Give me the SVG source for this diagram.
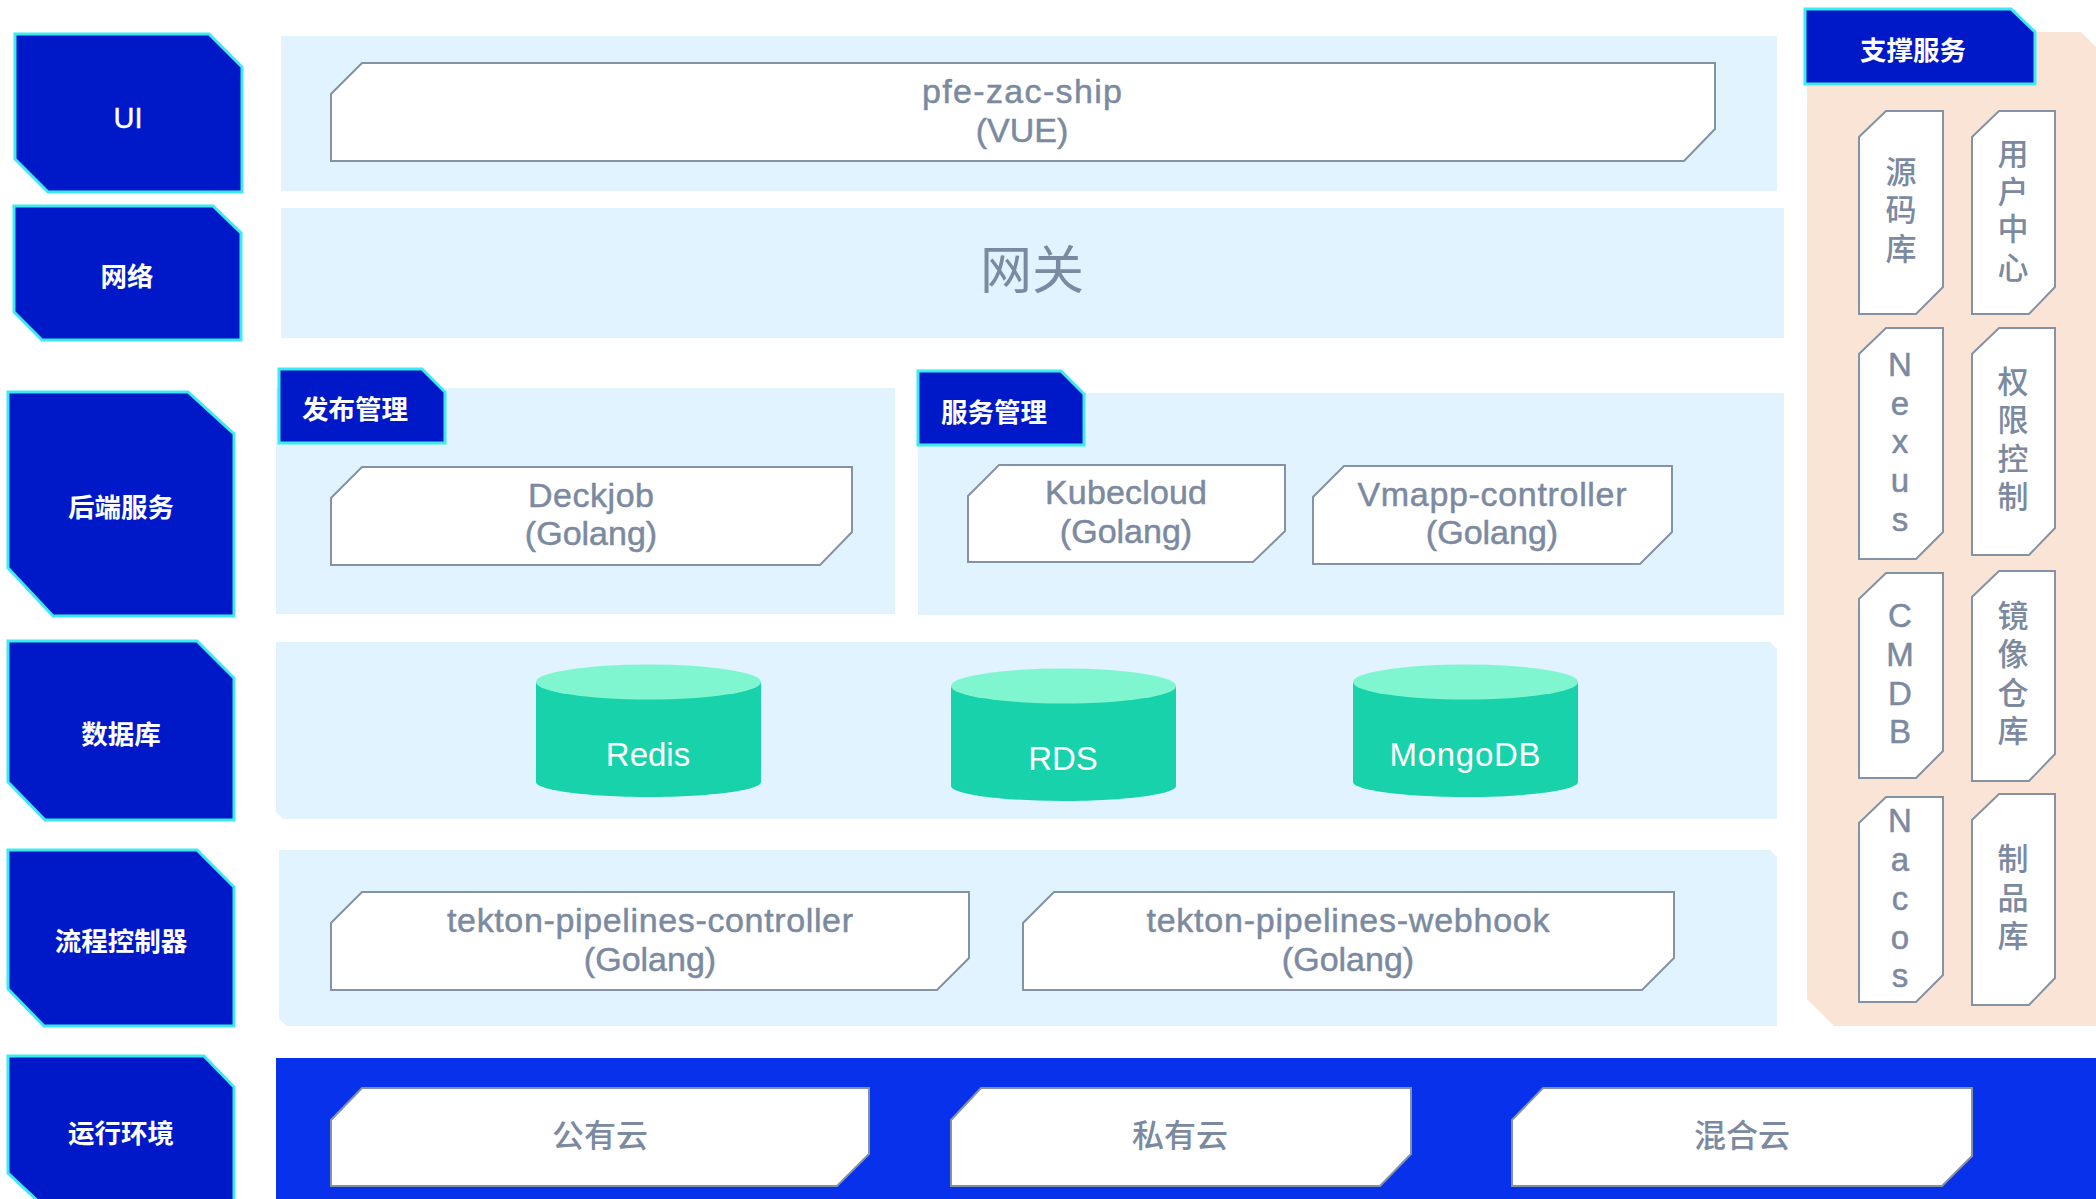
<svg xmlns="http://www.w3.org/2000/svg" width="2096" height="1199" viewBox="0 0 2096 1199">
<style>
text{font-family:"Liberation Sans","Noto Sans CJK SC",sans-serif;text-anchor:middle}
.p{fill:#e0f3ff}
.h{fill:#0019c8;stroke:#3ceaf0;stroke-width:3}
.n{fill:#fff;stroke:#8492a6;stroke-width:2}
.ht{fill:#fff;font-size:26.5px}
.ui{font-size:29px;stroke:#fff;stroke-width:.4}
.cjkb{font-family:"Noto Sans CJK SC",sans-serif;font-weight:700}
.t{fill:#7b8aa0;font-size:34px;stroke:#7b8aa0;stroke-width:.5}
.v{fill:#7b8aa0;font-size:31px;stroke:#7b8aa0;stroke-width:.5}
.vl{font-size:33px}
.vc{font-family:"Noto Sans CJK SC",sans-serif;font-weight:500;stroke-width:0}
.cb{fill:#18d2ab}
.ct{fill:#80f6d0}
.ctx{fill:#fff;font-size:33px}
.cc{font-size:32px}
</style>
<rect width="2096" height="1199" fill="#fff"/>
<g id="panels">
<rect class="p" x="281" y="36" width="1496" height="155"/>
<rect class="p" x="281" y="208" width="1503" height="130"/>
<rect class="p" x="276" y="388" width="619" height="226"/>
<rect class="p" x="918" y="393" width="866" height="222"/>
<path class="p" d="M276 642H1770L1777 649V819H283L276 812Z"/>
<path class="p" d="M279 850H1770L1777 857V1026H286L279 1019Z"/>
<rect x="276" y="1058" width="1820" height="141" fill="#0731ea"/>
<path d="M1807 32H2081L2096 47V1026H1834L1807 999Z" fill="#fae4d6"/>
</g>
<g id="connectors"></g>
<g id="layer-ui"><path class="h" d="M15 34H209L242 67V192H48L15 159Z"/><text class="ht ui" x="128" y="128">UI</text></g>
<g id="layer-net"><path class="h" d="M14 206H213L241 233V340H42L14 312Z"/><text class="ht cjkb" x="127" y="286">网络</text></g>
<g id="layer-backend"><path class="h" d="M8 392H188L234 434V616H53L8 568Z"/><text class="ht cjkb" x="121" y="517">后端服务</text></g>
<g id="layer-db"><path class="h" d="M8 641H197L234 678V820H45L8 782Z"/><text class="ht cjkb" x="121" y="744">数据库</text></g>
<g id="layer-flow"><path class="h" d="M8 850H197L234 887V1026H44L8 989Z"/><text class="ht cjkb" x="121" y="951">流程控制器</text></g>
<g id="layer-runtime"><path class="h" d="M8 1056H204L234 1087V1205H42L8 1173Z"/><text class="ht cjkb" x="121" y="1143">运行环境</text></g>
<g id="tag-support"><path class="h" d="M1805 9H2011L2035 32V84H1805Z"/><text class="ht cjkb" x="1913" y="60">支撑服务</text></g>
<g id="tag-release"><path class="h" d="M279 369H422L445 392V443H279Z"/><text class="ht cjkb" x="355" y="419">发布管理</text></g>
<g id="tag-service"><path class="h" d="M918 371H1061L1084 394V445H918Z"/><text class="ht cjkb" x="994" y="422">服务管理</text></g>
<g id="pfe"><path class="n" d="M362 63H1715V129L1684 161H331V94Z"/><text class="t" x="1022" y="103" textLength="200">pfe-zac-ship</text><text class="t" x="1022" y="142">(VUE)</text></g>
<g id="gateway"><text x="1032" y="289" font-size="52" fill="#7b8aa0" style="font-family:'Noto Sans CJK SC',sans-serif;font-weight:400">网关</text></g>
<g id="deckjob"><path class="n" d="M362 467H852V532L820 565H331V498Z"/><text class="t" x="591" y="507" textLength="126">Deckjob</text><text class="t" x="591" y="545">(Golang)</text></g>
<g id="kubecloud"><path class="n" d="M999 465H1285V531L1253 562H968V496Z"/><text class="t" x="1126" y="504" textLength="162">Kubecloud</text><text class="t" x="1126" y="543">(Golang)</text></g>
<g id="vmapp"><path class="n" d="M1344 466H1672V532L1640 564H1313V497Z"/><text class="t" x="1492" y="506" textLength="269">Vmapp-controller</text><text class="t" x="1492" y="544">(Golang)</text></g>
<g id="redis"><path class="cb" d="M536 682V782C536 790 587 797 649 797S761 790 761 782V682Z"/><ellipse class="ct" cx="648.500" cy="682" rx="112.500" ry="17.500"/><text class="ctx" x="648" y="766">Redis</text></g>
<g id="rds"><path class="cb" d="M951 686V786C951 794 1000 801 1063 801S1176 794 1176 786V686Z"/><ellipse class="ct" cx="1063.500" cy="686" rx="112.500" ry="17.500"/><text class="ctx" x="1063" y="770">RDS</text></g>
<g id="mongodb"><path class="cb" d="M1353 682V782C1353 790 1403 797 1466 797S1578 790 1578 782V682Z"/><ellipse class="ct" cx="1465.500" cy="682" rx="112.500" ry="17.500"/><text class="ctx" x="1465" y="766" textLength="151">MongoDB</text></g>
<g id="tekton-controller"><path class="n" d="M362 892H969V958L937 990H331V923Z"/><text class="t" x="650" y="932" textLength="406">tekton-pipelines-controller</text><text class="t" x="650" y="971">(Golang)</text></g>
<g id="tekton-webhook"><path class="n" d="M1054 892H1674V958L1642 990H1023V923Z"/><text class="t" x="1348" y="932" textLength="403">tekton-pipelines-webhook</text><text class="t" x="1348" y="971">(Golang)</text></g>
<g id="public-cloud"><path class="n" d="M362 1088H869V1154L837 1186H331V1120Z"/><text class="t vc cc" x="600" y="1147">公有云</text></g>
<g id="private-cloud"><path class="n" d="M981 1088H1411V1154L1380 1186H951V1120Z"/><text class="t vc cc" x="1180" y="1147">私有云</text></g>
<g id="hybrid-cloud"><path class="n" d="M1543 1088H1972V1156L1942 1186H1512V1120Z"/><text class="t vc cc" x="1742" y="1147">混合云</text></g>
<g id="repo" class="v vc"><path class="n" d="M1886 111H1943V287L1916 314H1859V137Z"/><text x="1901" y="183">源</text><text x="1901" y="221">码</text><text x="1901" y="260">库</text></g>
<g id="user" class="v vc"><path class="n" d="M1999 111H2055V287L2029 314H1972V137Z"/><text x="2013" y="165">用</text><text x="2013" y="203">户</text><text x="2013" y="240">中</text><text x="2013" y="279">心</text></g>
<g id="nexus" class="v vl"><path class="n" d="M1886 328H1943V532L1916 559H1859V354Z"/><text x="1900" y="376">N</text><text x="1900" y="415">e</text><text x="1900" y="453">x</text><text x="1900" y="492">u</text><text x="1900" y="531">s</text></g>
<g id="auth" class="v vc"><path class="n" d="M1999 328H2055V528L2029 555H1972V354Z"/><text x="2013" y="393">权</text><text x="2013" y="431">限</text><text x="2013" y="470">控</text><text x="2013" y="508">制</text></g>
<g id="cmdb" class="v vl"><path class="n" d="M1886 573H1943V751L1916 778H1859V599Z"/><text x="1900" y="627">C</text><text x="1900" y="666">M</text><text x="1900" y="705">D</text><text x="1900" y="743">B</text></g>
<g id="registry" class="v vc"><path class="n" d="M1999 571H2055V754L2029 781H1972V597Z"/><text x="2013" y="627">镜</text><text x="2013" y="665">像</text><text x="2013" y="704">仓</text><text x="2013" y="742">库</text></g>
<g id="nacos" class="v vl"><path class="n" d="M1886 797H1943V975L1916 1002H1859V823Z"/><text x="1900" y="832">N</text><text x="1900" y="871">a</text><text x="1900" y="910">c</text><text x="1900" y="949">o</text><text x="1900" y="987">s</text></g>
<g id="artifact" class="v vc"><path class="n" d="M1999 794H2055V978L2029 1005H1972V820Z"/><text x="2013" y="870">制</text><text x="2013" y="909">品</text><text x="2013" y="947">库</text></g>
</svg>
